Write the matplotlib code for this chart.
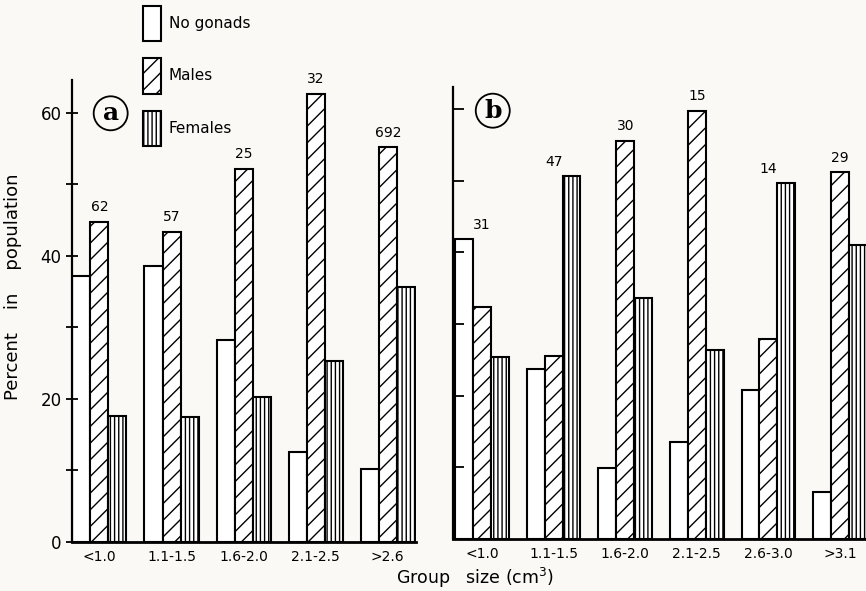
import numpy as np
import matplotlib
matplotlib.use('Agg')
import matplotlib.pyplot as plt

plt.rcParams['font.family'] = ['DejaVu Sans']
plt.rcParams['hatch.linewidth'] = 1.0

# panel a
groups_a = ['<1.0', '1.1-1.5', '1.6-2.0', '2.1-2.5', '>2.6']
nogonads_a = [37.2, 38.6, 28.2, 12.5, 10.2]
males_a = [44.8, 43.4, 52.2, 62.7, 55.2]
females_a = [17.6, 17.5, 20.2, 25.3, 35.6]
n_a = ['62', '57', '25', '32', '692']

# panel b
groups_b = ['<1.0', '1.1-1.5', '1.6-2.0', '2.1-2.5', '2.6-3.0', '>3.1']
nogonads_b = [41.8, 23.7, 9.9, 13.5, 20.8, 6.5]
males_b = [32.4, 25.5, 55.6, 59.8, 27.9, 51.2]
females_b = [25.4, 50.6, 33.6, 26.4, 49.7, 41.0]
n_b = ['31', '47', '30', '15', '14', '29']

bg = '#faf9f6'
fig = plt.figure(figsize=(8.66, 5.91), dpi=100, facecolor=bg)
ax_a = fig.add_axes([0.0831, 0.0834, 0.397, 0.7812])
ax_b = fig.add_axes([0.5235, 0.088, 0.4765, 0.765])

w = 0.25


def draw_panel(ax, groups, ng, ml, fm, counts, ymax, xlim, tickdir):
    ax.set_facecolor(bg)
    x = np.arange(len(groups))
    kw = dict(width=w, edgecolor='black', linewidth=1.5, color='white')
    b1 = ax.bar(x - w, ng, **kw)
    b2 = ax.bar(x, ml, hatch='//', **kw)
    b3 = ax.bar(x + w, fm, hatch='||||', **kw)
    for i, c in enumerate(counts):
        top = max(ng[i], ml[i], fm[i])
        ax.text(x[i], top + 1.0, c, ha='center', va='bottom', fontsize=10)
    ax.set_xlim(*xlim)
    ax.set_ylim(0, ymax)
    ax.set_xticks(x)
    ax.set_xticklabels(groups, fontsize=10)
    ax.tick_params(axis='x', length=0, pad=6)
    ax.set_yticks(np.arange(0, 61, 10))
    ax.tick_params(axis='y', direction=tickdir, length=8, width=1.3)
    for s in ['top', 'right']:
        ax.spines[s].set_visible(False)
    ax.spines['left'].set_linewidth(1.6)
    ax.spines['bottom'].set_linewidth(2.0)
    return b1, b2, b3


b1, b2, b3 = draw_panel(ax_a, groups_a, nogonads_a, males_a, females_a, n_a,
                        64.6, (-0.381, 4.388), 'inout')
ax_a.set_yticklabels(['0', '', '20', '', '40', '', '60'], fontsize=12)
ax_a.set_ylabel('Percent    in    population', fontsize=13)
ax_a.yaxis.set_label_coords(-0.145, 0.552)

draw_panel(ax_b, groups_b, nogonads_b, males_b, females_b, n_b,
           63.1, (-0.40, 5.363), 'in')
ax_b.set_yticklabels([])

fig.text(0.548, 0.022, 'Group   size (cm$^3$)', ha='center', va='center', fontsize=12.5)

# circled panel letters
for xf, yf, lab in [(0.1278, 0.8083, 'a'), (0.569, 0.8127, 'b')]:
    fig.text(xf, yf, lab, ha='center', va='center', fontsize=18,
             fontweight='bold', family='DejaVu Serif',
             bbox=dict(boxstyle='circle,pad=0.2', fc='none', ec='black', lw=1.3))

fig.legend([b1, b2, b3], ['No gonads', 'Males', 'Females'],
           loc='upper left', bbox_to_anchor=(0.165, 0.99), frameon=False,
           fontsize=11, handlelength=1.2, handleheight=3.2, labelspacing=1.1,
           handletextpad=0.5, borderpad=0, borderaxespad=0)

fig.savefig('out.png', dpi=100, facecolor=bg)
